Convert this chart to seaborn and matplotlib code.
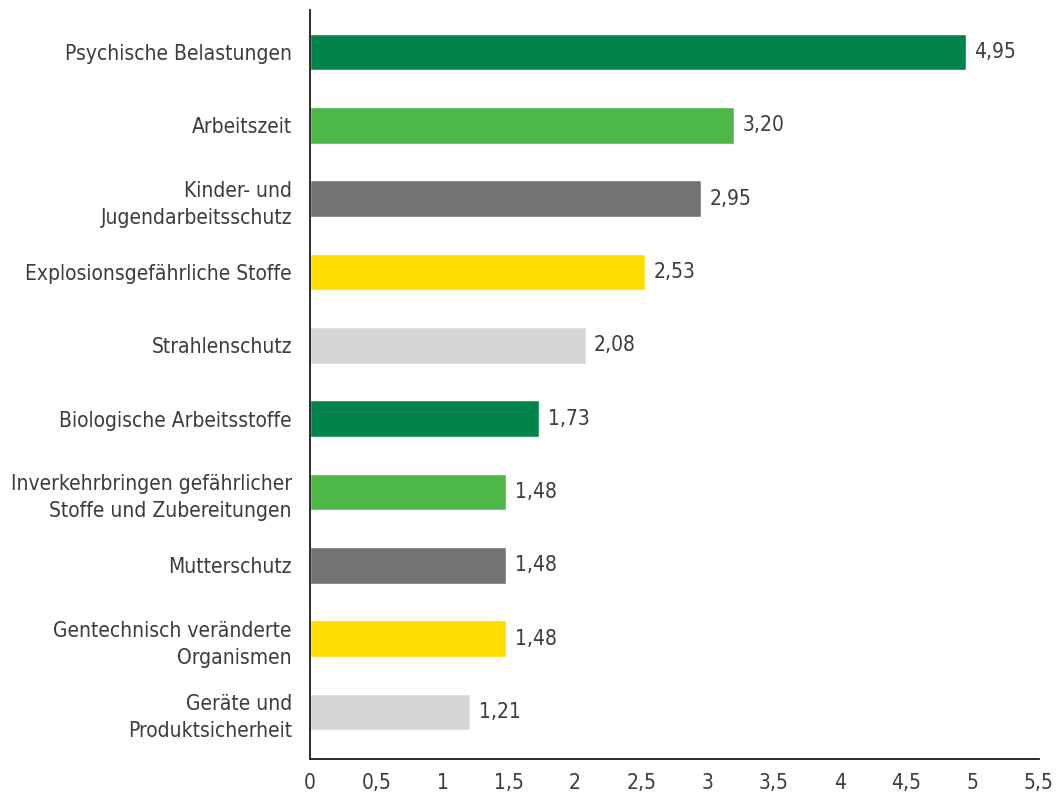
import matplotlib.pyplot as plt
import pandas as pd
import seaborn as sns

categories = [
    "Psychische Belastungen",
    "Arbeitszeit",
    "Kinder- und\nJugendarbeitsschutz",
    "Explosionsgefährliche Stoffe",
    "Strahlenschutz",
    "Biologische Arbeitsstoffe",
    "Inverkehrbringen gefährlicher\nStoffe und Zubereitungen",
    "Mutterschutz",
    "Gentechnisch veränderte\nOrganismen",
    "Geräte und\nProduktsicherheit",
]
values = [4.95, 3.20, 2.95, 2.53, 2.08, 1.73, 1.48, 1.48, 1.48, 1.21]
bar_colors = [
    "#00844a", "#4db748", "#737373", "#ffdd00", "#d6d6d8",
    "#00844a", "#4db748", "#737373", "#ffdd00", "#d6d6d8",
]
x_ticks = [0, 0.5, 1, 1.5, 2, 2.5, 3, 3.5, 4, 4.5, 5, 5.5]

TEXT = "#3c3c3c"
FS = 15

sns.set_style("white")
plt.rcParams["font.family"] = ["DejaVu Sans"]
plt.rcParams["font.stretch"] = "condensed"


def main():
    df = pd.DataFrame({"category": categories, "value": values})

    fig = plt.figure(figsize=(10.56, 8.01), dpi=100)
    ax = fig.add_axes([0.2936, 0.0524, 0.6903, 0.935])

    sns.barplot(
        data=df, x="value", y="category", hue="category",
        palette=bar_colors, orient="h", width=0.5, legend=False,
        saturation=1, ax=ax,
    )

    for container in ax.containers:
        ax.bar_label(
            container,
            labels=[f"{v:.2f}".replace(".", ",") for v in container.datavalues],
            padding=6, fontsize=FS, color=TEXT,
        )

    ax.set_xlim(0, 5.5)
    ax.set_ylim(9.64, -0.57)
    ax.set_xticks(x_ticks)
    ax.set_xticklabels([f"{t:g}".replace(".", ",") for t in x_ticks])
    ax.set_xlabel("")
    ax.set_ylabel("")

    for side in ["top", "right"]:
        ax.spines[side].set_visible(False)
    for side in ["left", "bottom"]:
        ax.spines[side].set_color("#1a1a1a")
        ax.spines[side].set_linewidth(1.3)

    ax.tick_params(axis="x", length=8, width=1.3, color="#1a1a1a",
                   labelsize=FS, labelcolor=TEXT, pad=2)
    ax.tick_params(axis="y", length=0, labelsize=FS, labelcolor=TEXT, pad=13)
    for lbl in ax.get_yticklabels():
        lbl.set_multialignment("right")
        lbl.set_linespacing(1.45)

    fig.savefig("out.png", dpi=100)
    plt.close(fig)


if __name__ == "__main__":
    main()
